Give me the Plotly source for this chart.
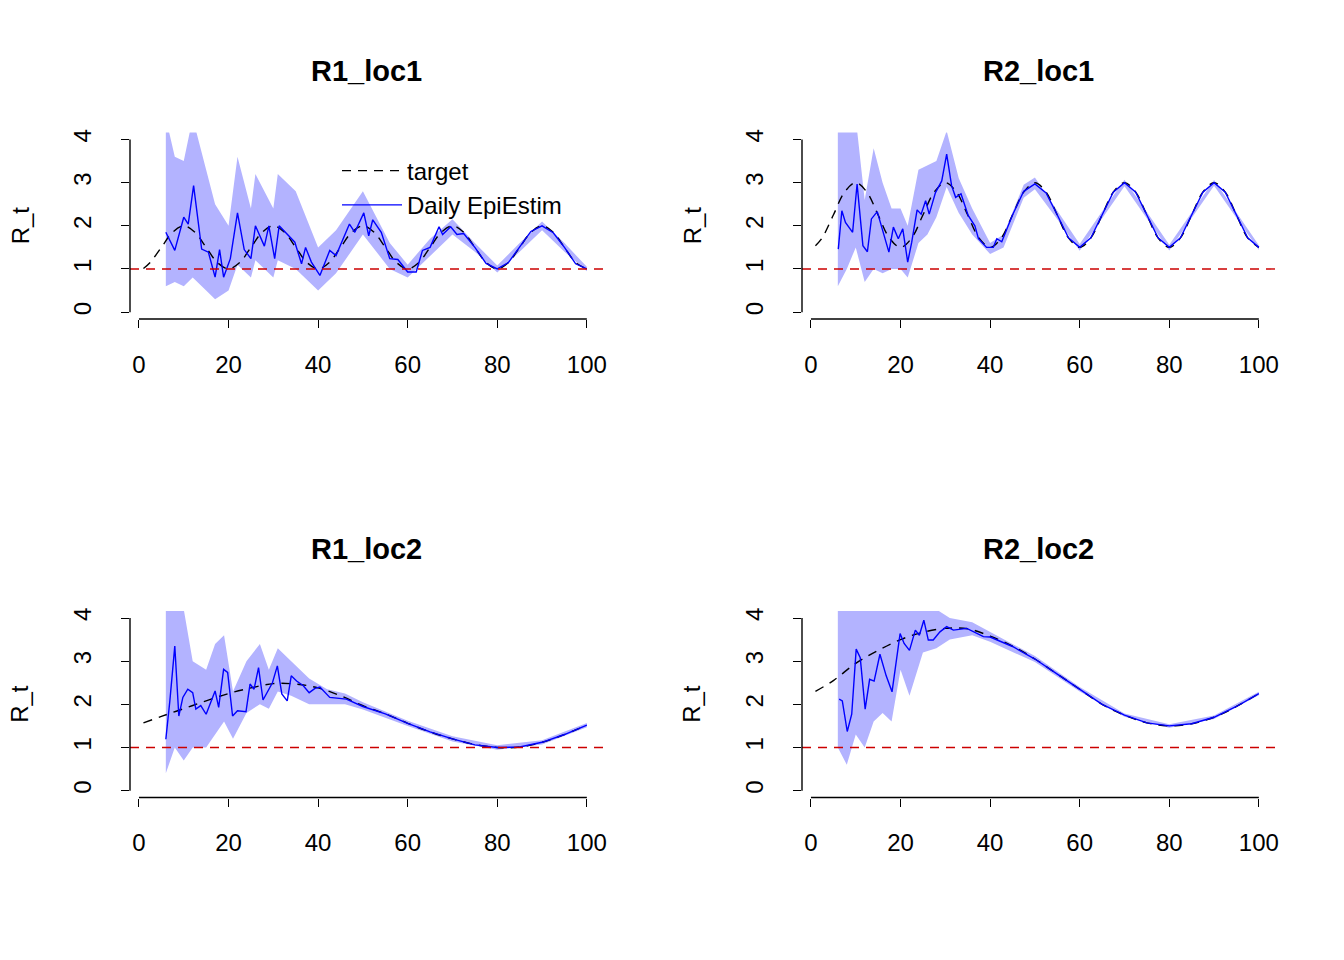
import plotly.graph_objects as go

# ---- values (t in days, R_t) ----
TGT_T_FINE = [1] + [2.5 * i for i in range(1, 41)]           # 1, 2.5, 5, ... 100
TGT_T_COARSE = [1] + [5 * i for i in range(1, 21)]           # 1, 5, 10, ... 100

r1l1_tgt = [1.01] + [1.15, 1.5, 1.85, 2.0, 1.85, 1.5, 1.15, 1.0,
                     1.15, 1.5, 1.85, 2.0, 1.85, 1.5, 1.15, 1.0,
                     1.15, 1.5, 1.85, 2.0, 1.85, 1.5, 1.15, 1.0,
                     1.15, 1.5, 1.85, 2.0, 1.85, 1.5, 1.15, 1.0,
                     1.15, 1.5, 1.85, 2.0, 1.85, 1.5, 1.15, 1.0]
r1l1_t = [6, 8, 10, 11, 12.2, 14, 15.5, 17, 18, 18.9, 20.4, 22, 23.5, 25, 26, 28, 29, 30.3,
          31.3, 33.3, 34.8, 36.3, 37.2, 38.5, 40.4, 42.6, 44, 47, 48.2, 50.2, 51.3, 52.2,
          54.1, 56, 57.8, 60, 61.9, 63.3, 65, 67, 67.8, 69.6, 71, 72.5, 75, 77.5, 80, 82.5,
          85, 87.5, 90, 92.5, 95, 97.5, 100]
r1l1_est = [1.85, 1.43, 2.2, 2.04, 2.93, 1.46, 1.39, 0.81, 1.45, 0.81, 1.24, 2.3, 1.45, 1.24,
            2.0, 1.53, 2.0, 1.24, 2.0, 1.77, 1.62, 1.12, 1.5, 1.16, 0.85, 1.43, 1.31, 2.04,
            1.85, 2.3, 1.77, 2.14, 1.85, 1.24, 1.22, 0.93, 0.93, 1.43, 1.5, 1.98, 1.8, 1.98,
            1.8, 1.82, 1.5, 1.13, 1.0, 1.15, 1.5, 1.87, 2.0, 1.84, 1.5, 1.12, 1.0]
r1l1_bt = [6, 8, 10, 12, 15, 17, 20, 22, 25, 26, 30, 31, 35, 40, 44, 50, 56, 60, 65, 70, 75,
           80, 85, 90, 95, 100]
r1l1_lo = [0.6, 0.7, 0.6, 0.8, 0.5, 0.3, 0.5, 1.1, 0.8, 1.2, 0.8, 1.2, 1.0, 0.5, 0.9, 1.8,
           1.0, 0.8, 1.3, 1.8, 1.4, 0.92, 1.4, 1.9, 1.4, 0.95]
r1l1_hi = [4.5, 3.6, 3.5, 4.5, 3.3, 2.5, 2.0, 3.6, 2.4, 3.2, 2.4, 3.2, 2.8, 1.5, 1.9, 2.8,
           1.6, 1.1, 1.7, 2.15, 1.6, 1.08, 1.6, 2.1, 1.6, 1.05]

r2l1_tgt = [1.54] + [1.72, 2.25, 2.78, 3.0, 2.78, 2.25, 1.72, 1.5,
                     1.72, 2.25, 2.78, 3.0, 2.78, 2.25, 1.72, 1.5,
                     1.72, 2.25, 2.78, 3.0, 2.78, 2.25, 1.72, 1.5,
                     1.72, 2.25, 2.78, 3.0, 2.78, 2.25, 1.72, 1.5,
                     1.72, 2.25, 2.78, 3.0, 2.78, 2.25, 1.72, 1.5]
r2l1_t = [6.1, 6.9, 7.7, 9.3, 10.3, 11.6, 12.6, 13.5, 14.8, 16.1, 17.4, 18.4, 19.5, 20.5,
          21.6, 22.5, 23.7, 24.6, 25.6, 26.4, 27.8, 29.2, 30.3, 31.4, 32.3, 33.5, 35.1,
          36.6, 37.4, 39.2, 40.7, 41.5, 42.6, 45, 47.5, 50, 52.5, 55, 57.5, 60, 62.5, 65,
          67.5, 70, 72.5, 75, 77.5, 80, 82.5, 85, 87.5, 90, 92.5, 95, 97.5, 100]
r2l1_est = [1.46, 2.35, 2.08, 1.85, 2.97, 1.54, 1.40, 2.16, 2.33, 1.85, 1.39, 1.97, 1.7,
            1.93, 1.16, 1.62, 2.37, 2.27, 2.58, 2.27, 2.77, 3.04, 3.66, 2.93, 2.66, 2.74,
            2.24, 2.0, 1.7, 1.5, 1.5, 1.7, 1.63, 2.25, 2.8, 2.97, 2.76, 2.25, 1.72, 1.5,
            1.72, 2.25, 2.78, 3.0, 2.78, 2.25, 1.72, 1.5, 1.72, 2.25, 2.78, 3.0, 2.78, 2.25,
            1.72, 1.5]
r2l1_bt = [6, 8, 10, 12, 14, 16, 18, 20, 21.6, 24, 26, 28, 30.3, 33, 36, 40, 43, 47.5, 50,
           55, 60, 65, 70, 75, 80, 85, 90, 95, 100]
r2l1_lo = [0.6, 1.0, 1.5, 0.7, 1.0, 0.9, 1.0, 1.0, 0.8, 1.6, 1.8, 2.2, 2.9, 2.3, 1.8, 1.35,
           1.5, 2.65, 2.85, 2.15, 1.42, 2.17, 2.92, 2.17, 1.43, 2.18, 2.93, 2.18, 1.44]
r2l1_hi = [4.5, 4.5, 4.5, 2.6, 3.8, 3.0, 2.4, 2.4, 2.0, 3.3, 3.4, 3.5, 4.2, 3.1, 2.4, 1.6,
           1.8, 2.95, 3.12, 2.35, 1.58, 2.33, 3.07, 2.32, 1.56, 2.31, 3.06, 2.31, 1.55]

r1l2_tgt = [1.57, 1.72, 1.9, 2.08, 2.25, 2.38, 2.48, 2.47, 2.38, 2.2, 1.97, 1.78, 1.56,
            1.36, 1.2, 1.07, 1.0, 1.01, 1.12, 1.3, 1.52]
r1l2_t = [6, 6.9, 8, 8.9, 9.8, 10.9, 12, 12.7, 13.8, 15, 17, 17.8, 18.9, 19.8, 20.9, 22,
          23.9, 24.8, 25.7, 26.7, 27.7, 29.8, 30.9, 31.9, 33.1, 34, 35.2, 36.7, 38, 39.3,
          40.4, 42.6, 46.3, 50, 55, 60, 65, 70, 75, 80, 85, 90, 95, 100]
r1l2_est = [1.19, 2.08, 3.35, 1.73, 2.16, 2.35, 2.27, 1.89, 1.97, 1.77, 2.31, 1.93, 2.81,
            2.74, 1.73, 1.85, 1.83, 2.47, 2.35, 2.85, 2.10, 2.5, 2.89, 2.24, 2.08, 2.66,
            2.54, 2.43, 2.27, 2.37, 2.4, 2.16, 2.12, 1.95, 1.78, 1.56, 1.36, 1.2, 1.06, 1.0,
            1.01, 1.12, 1.3, 1.52]
r1l2_bt = [6, 8, 10, 12, 15, 17, 19, 21, 24, 27, 29, 31, 34, 38, 42, 46, 50, 60, 70, 80, 90, 100]
r1l2_lo = [0.4, 1.0, 0.7, 1.0, 1.0, 1.3, 1.6, 1.2, 1.8, 2.0, 1.9, 2.3, 2.2, 2.0, 2.0, 2.0,
           1.88, 1.5, 1.14, 0.95, 1.07, 1.47]
r1l2_hi = [4.5, 4.5, 4.2, 3.0, 2.8, 3.4, 3.6, 2.3, 3.0, 3.4, 2.8, 3.3, 3.0, 2.6, 2.35, 2.25,
           2.05, 1.62, 1.26, 1.05, 1.17, 1.57]

r2l2_tgt = [2.3, 2.55, 2.95, 3.25, 3.5, 3.67, 3.76, 3.75, 3.58, 3.35, 3.05, 2.7, 2.35, 2.0,
            1.75, 1.57, 1.5, 1.55, 1.7, 1.95, 2.25]
r2l2_t = [6.3, 7, 8.1, 9.1, 10.1, 11, 12.1, 13.1, 14.1, 15.4, 16.8, 18.1, 19.9, 20.8, 22,
          23.3, 24.2, 25.2, 26.2, 27.3, 28.8, 30.3, 31.8, 34.8, 38.5, 40, 45, 50, 55, 60,
          65, 70, 75, 80, 85, 90, 95, 100]
r2l2_est = [2.12, 2.08, 1.37, 1.77, 3.28, 3.08, 1.89, 2.58, 2.54, 3.16, 2.66, 2.29, 3.64,
            3.41, 3.25, 3.72, 3.6, 3.95, 3.49, 3.49, 3.68, 3.8, 3.72, 3.76, 3.57, 3.56, 3.34,
            3.05, 2.7, 2.35, 2.0, 1.75, 1.57, 1.5, 1.55, 1.7, 1.95, 2.25]
r2l2_bt = [6, 8, 10, 12, 14, 16, 18, 20, 22, 25, 28, 31, 36, 40, 50, 60, 70, 80, 90, 100]
r2l2_lo = [1.0, 0.6, 1.3, 1.0, 1.6, 1.8, 1.6, 2.8, 2.2, 3.2, 3.3, 3.5, 3.6, 3.45, 2.98, 2.3,
           1.71, 1.46, 1.66, 2.21]
r2l2_hi = [4.5, 4.5, 4.5, 4.5, 4.2, 4.5, 4.3, 4.5, 4.5, 4.5, 4.2, 4.0, 3.9, 3.68, 3.12, 2.4,
           1.79, 1.54, 1.74, 2.29]

X_TICKS = [0, 20, 40, 60, 80, 100]
Y_TICKS = [0, 1, 2, 3, 4]

PANELS = [
    ('R1_loc1', TGT_T_FINE, r1l1_tgt, r1l1_t, r1l1_est, r1l1_bt, r1l1_lo, r1l1_hi),
    ('R2_loc1', TGT_T_FINE, r2l1_tgt, r2l1_t, r2l1_est, r2l1_bt, r2l1_lo, r2l1_hi),
    ('R1_loc2', TGT_T_COARSE, r1l2_tgt, r1l2_t, r1l2_est, r1l2_bt, r1l2_lo, r1l2_hi),
    ('R2_loc2', TGT_T_COARSE, r2l2_tgt, r2l2_t, r2l2_est, r2l2_bt, r2l2_lo, r2l2_hi),
]

W, H = 1344, 960
OFF = 8                                   # page body margin in the browser
FONT = 'Liberation Sans, Arial, sans-serif'
BAND, BLUE, RED = '#B3B3FF', '#0000FF', '#CC0000'
DASH = '9px,7px'

fig = go.Figure()
for i, (title, tt, tv, et, ev, bt, lo, hi) in enumerate(PANELS):
    col, row = i % 2, i // 2
    x0 = 130 + 672 * col - OFF            # plot-region pixel box
    y0 = 130 + 480 * row - OFF
    xd = [x0 / W, (x0 + 477) / W]
    yd = [1 - (y0 + 187) / H, 1 - y0 / H]
    n = '' if i == 0 else str(i + 1)
    xa, ya = 'x' + n, 'y' + n
    show = i == 0
    fig.add_trace(go.Scatter(x=bt, y=hi, mode='lines', line=dict(width=0, color=BAND),
                             xaxis=xa, yaxis=ya, showlegend=False, hoverinfo='skip'))
    fig.add_trace(go.Scatter(x=bt, y=lo, mode='lines', line=dict(width=0, color=BAND),
                             fill='tonexty', fillcolor=BAND,
                             xaxis=xa, yaxis=ya, showlegend=False, hoverinfo='skip'))
    fig.add_trace(go.Scatter(x=tt, y=tv, mode='lines', name='target', line_shape='spline',
                             line=dict(color='black', width=1.4, dash=DASH),
                             xaxis=xa, yaxis=ya, showlegend=show, legendrank=1))
    fig.add_trace(go.Scatter(x=et, y=ev, mode='lines', name='Daily EpiEstim',
                             line=dict(color=BLUE, width=1.4),
                             xaxis=xa, yaxis=ya, showlegend=show, legendrank=2))
    # red reference line at R_t = 1
    fig.add_shape(type='line', xref=xa + ' domain', yref=ya, x0=0, x1=1, y0=1, y1=1,
                  line=dict(color=RED, width=1.4, dash=DASH))
    # detached R-style axis lines
    fig.add_shape(type='line', xref=xa, yref='paper', x0=0, x1=100, y0=yd[0], y1=yd[0],
                  line=dict(color='black', width=1.4))
    fig.add_shape(type='line', xref='paper', yref=ya, x0=xd[0], x1=xd[0], y0=0, y1=4,
                  line=dict(color='black', width=1.4))
    fig.add_annotation(text=f'<b>{title}</b>', xref='paper', yref='paper',
                       x=(x0 + 236) / W, y=1 - (y0 - 62) / H, showarrow=False,
                       xanchor='center', yanchor='middle',
                       font=dict(size=29, family=FONT, color='black'))
    fig.add_annotation(text='R_t', xref='paper', yref='paper', textangle=-90,
                       x=(x0 - 110) / W, y=1 - (y0 + 93) / H, showarrow=False,
                       xanchor='center', yanchor='middle',
                       font=dict(size=24, family=FONT, color='black'))
    axis_common = dict(showgrid=False, zeroline=False, showline=False, ticks='outside',
                       ticklen=8, tickwidth=1.4, tickcolor='black',
                       tickfont=dict(size=24, family=FONT, color='black'))
    fig.layout['xaxis' + n] = dict(domain=xd, range=[-2.0, 104.5], tickvals=X_TICKS,
                                   anchor=ya, ticklabelstandoff=16, **axis_common)
    fig.layout['yaxis' + n] = dict(domain=yd, range=[-0.16, 4.16], tickvals=Y_TICKS,
                                   anchor=xa, tickangle=-90, ticklabelstandoff=20,
                                   **axis_common)

fig.update_layout(width=W, height=H, margin=dict(l=0, r=0, t=0, b=0),
                  plot_bgcolor='white', paper_bgcolor='white',
                  legend=dict(x=(337 - OFF) / W, y=1 - (146 - OFF) / H, xanchor='left',
                              yanchor='top', traceorder='normal',
                              bgcolor='rgba(0,0,0,0)', tracegroupgap=0, itemwidth=60,
                              font=dict(size=24, family=FONT, color='black')))
fig.write_html('out.html')
